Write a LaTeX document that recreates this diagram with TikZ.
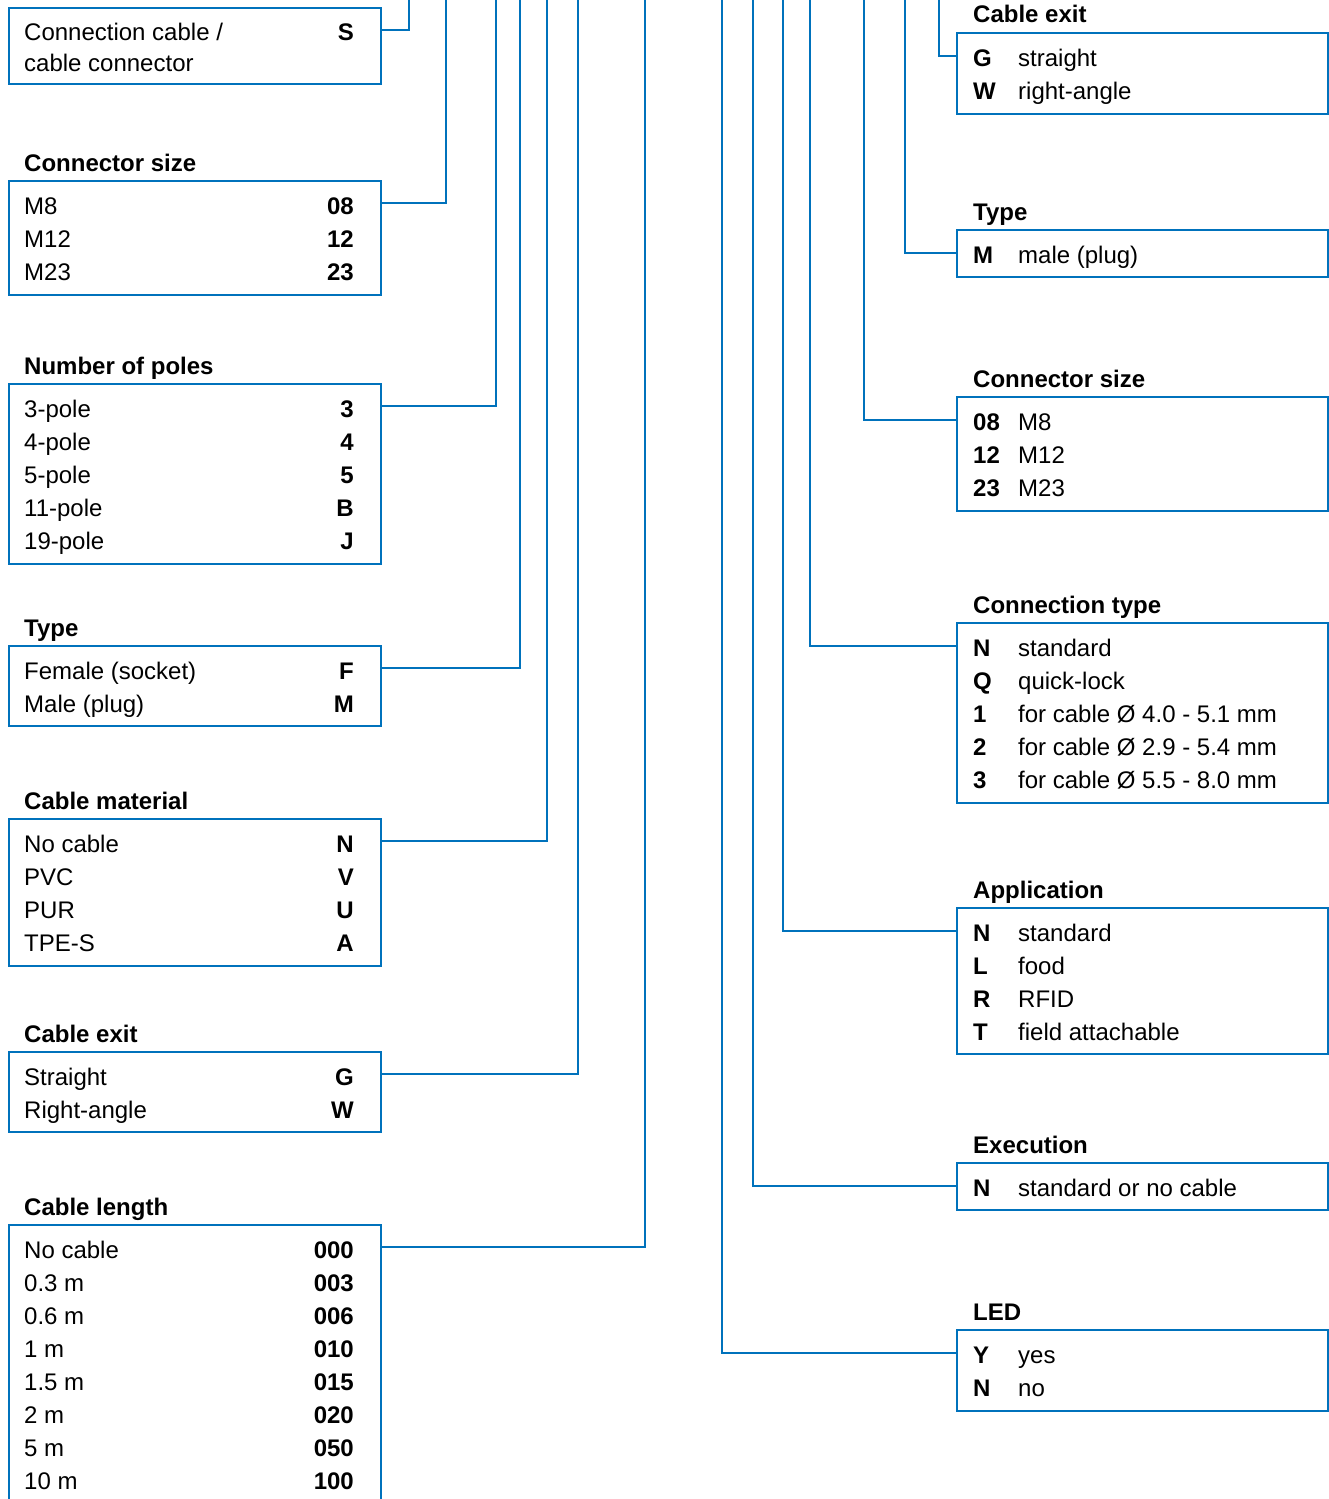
\documentclass[tikz,border=0pt]{standalone}
\usepackage{fontspec}
\setmainfont{Liberation Sans}
\definecolor{cblue}{RGB}{0,114,188}
\newcommand\fs{\fontsize{24}{29}\selectfont}
\tikzset{
  box/.style={draw=cblue, line width=2.6pt, inner sep=0pt, outer sep=0pt, anchor=north west},
  conn/.style={draw=cblue, line width=2.6pt},
  lbl/.style={anchor=base west, inner sep=0pt, font=\fs},
  code/.style={anchor=base east, inner sep=0pt, font=\fs\bfseries},
  rcode/.style={anchor=base west, inner sep=0pt, font=\fs\bfseries},
  ttl/.style={anchor=base west, inner sep=0pt, font=\fs\bfseries},
}
% left box: name, top, height, title, rows label/code
\newcommand\leftbox[5]{%
  \node[ttl] (#1t) at (24,#2-10) {#4};
  \node[box, minimum width=372pt, minimum height=#3pt] (#1) at (9,#2) {};
  \foreach \a/\b [count=\i] in {#5} {
    \node[lbl] (#1l\i) at (24,#2+33*\i) {\a};
    \node[code] (#1c\i) at (354,#2+33*\i) {\b};
  }
}
% right box: name, top, height, title, rows code/label
\newcommand\rightbox[5]{%
  \node[ttl] (#1t) at (973,#2-10) {#4};
  \node[box, minimum width=371pt, minimum height=#3pt] (#1) at (957,#2) {};
  \foreach \a/\b [count=\i] in {#5} {
    \node[rcode] (#1c\i) at (973,#2+33*\i) {\a};
    \node[lbl] (#1l\i) at (1018,#2+33*\i) {\b};
  }
}
\begin{document}
\begin{tikzpicture}[x=1pt,y=-1pt]
\useasboundingbox (0,0) rectangle (1329,1499);
% ---- left column
\node[box, minimum width=372pt, minimum height=76pt] (L1) at (9,8) {};
\node[lbl] (L1l1) at (24,40) {Connection cable /};
\node[lbl] (L1l2) at (24,71) {cable connector};
\node[code] (L1c1) at (354,40) {S};
\leftbox{L2}{181}{114}{Connector size}{M8/08, M12/12, M23/23}
\leftbox{L3}{384}{180}{Number of poles}{3-pole/3, 4-pole/4, 5-pole/5, 11-pole/B, 19-pole/J}
\leftbox{L4}{646}{80}{Type}{Female (socket)/F, Male (plug)/M}
\leftbox{L5}{819}{147}{Cable material}{No cable/N, PVC/V, PUR/U, TPE-S/A}
\leftbox{L6}{1052}{80}{Cable exit}{Straight/G, Right-angle/W}
\leftbox{L7}{1225}{300}{Cable length}{No cable/000, 0.3 m/003, 0.6 m/006, 1 m/010, 1.5 m/015, 2 m/020, 5 m/050, 10 m/100}
% ---- right column
\rightbox{R1}{33}{81}{Cable exit}{G/straight, W/right-angle}
\rightbox{R2}{230}{47}{Type}{M/male (plug)}
\rightbox{R3}{397}{114}{Connector size}{08/M8, 12/M12, 23/M23}
\rightbox{R4}{623}{180}{Connection type}{N/standard, Q/quick-lock, 1/for cable Ø 4.0 - 5.1 mm, 2/for cable Ø 2.9 - 5.4 mm, 3/for cable Ø 5.5 - 8.0 mm}
\rightbox{R5}{908}{146}{Application}{N/standard, L/food, R/RFID, T/field attachable}
\rightbox{R6}{1163}{47}{Execution}{N/standard or no cable}
\rightbox{R7}{1330}{81}{LED}{Y/yes, N/no}
% ---- top ends of connectors
\coordinate (tL1) at (409,-4);
\coordinate (tL2) at (446,-4);
\coordinate (tL3) at (496,-4);
\coordinate (tL4) at (520,-4);
\coordinate (tL5) at (547,-4);
\coordinate (tL6) at (578,-4);
\coordinate (tL7) at (645,-4);
\coordinate (tR1) at (939,-4);
\coordinate (tR2) at (905,-4);
\coordinate (tR3) at (864,-4);
\coordinate (tR4) at (810,-4);
\coordinate (tR5) at (783,-4);
\coordinate (tR6) at (753,-4);
\coordinate (tR7) at (722,-4);
\foreach \n in {L1,L2,L3,L4,L5,L6,L7}
  \draw[conn] ([yshift=-22pt]\n.north east) -| (t\n);
\foreach \n in {R1,R2,R3,R4,R5,R6,R7}
  \draw[conn] ([yshift=-23pt]\n.north west) -| (t\n);
\end{tikzpicture}
\end{document}
